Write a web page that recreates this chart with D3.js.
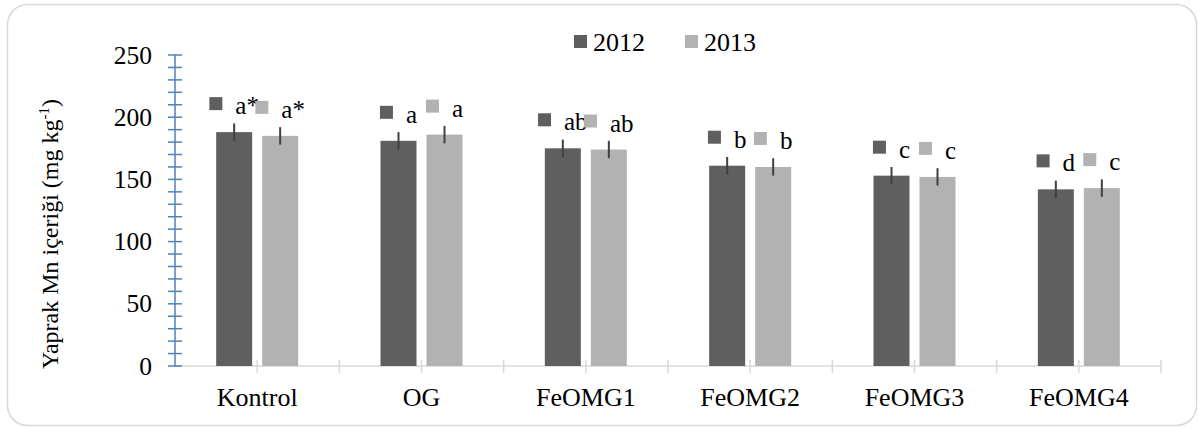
<!DOCTYPE html>
<html><head><meta charset="utf-8">
<script src="https://cdn.jsdelivr.net/npm/d3@7"></script>
<style>html,body{margin:0;padding:0;background:#fff;}svg{display:block;}text{font-family:"Liberation Serif","Times New Roman",serif;fill:#000;}</style>
</head><body><svg id="c" width="1198" height="428"></svg>
<script>
const categories = ["Kontrol","OG","FeOMG1","FeOMG2","FeOMG3","FeOMG4"];
const series = ["2012","2013"];
const values2012 = [188,181,175,161,153,142];
const values2013 = [185,186,174,160,152,143];
const errors2012 = [7,7,7,7,7,7];
const errors2013 = [7,7,7,7,7,7];
const letters2012 = ["a*","a","ab","b","c","d"];
const letters2013 = ["a*","a","ab","b","c","c"];
const yTicks = [0,50,100,150,200,250];
const colors = {"2012":"#5f5f5f","2013":"#b2b2b2"};

const svg = d3.select("#c");
svg.append("rect").attr("x",7.5).attr("y",4.5).attr("width",1189).attr("height",421)
  .attr("rx",20).attr("fill","#fff").attr("stroke","#d9d9d9").attr("stroke-width",1.5);

const pLeft=175, pRight=1161, pTop=55, pBottom=366;
const y = d3.scaleLinear().domain([0,250]).range([pBottom,pTop]);
const x0 = d3.scaleBand().domain(categories).range([pLeft,pRight]).padding(0);
const groupW = 82;
const x1 = d3.scaleBand().domain(series).range([0,groupW]).paddingInner(10/46);

const data = [];
categories.forEach((c,i)=>{
  data.push({c,s:"2012",v:values2012[i],e:errors2012[i],l:letters2012[i]});
  data.push({c,s:"2013",v:values2013[i],e:errors2013[i],l:letters2013[i]});
});
const bx = d=> x0(d.c)+x0.bandwidth()/2-groupW/2+x1(d.s);

// x axis
svg.append("line").attr("x1",pLeft).attr("x2",pRight).attr("y1",pBottom).attr("y2",pBottom)
  .attr("stroke","#d9d9d9").attr("stroke-width",1.5);
const xTickPos = [];
categories.forEach(c=>{xTickPos.push(x0(c)+x0.bandwidth()/2); xTickPos.push(x0(c)+x0.bandwidth());});
svg.selectAll(".xt").data(xTickPos).enter().append("line")
  .attr("x1",d=>d).attr("x2",d=>d).attr("y1",pBottom-6).attr("y2",pBottom+7)
  .attr("stroke","#d9d9d9").attr("stroke-width",1.5);
svg.selectAll(".xl").data(categories).enter().append("text")
  .attr("x",d=>x0(d)+x0.bandwidth()/2).attr("y",406).attr("text-anchor","middle")
  .attr("font-size",26).text(d=>d);

// bars
svg.selectAll(".bar").data(data).enter().append("rect")
  .attr("x",bx).attr("width",x1.bandwidth())
  .attr("y",d=>y(d.v)).attr("height",d=>pBottom-y(d.v))
  .attr("fill",d=>colors[d.s]);

// error bars
svg.selectAll(".err").data(data).enter().append("line")
  .attr("x1",d=>bx(d)+x1.bandwidth()/2).attr("x2",d=>bx(d)+x1.bandwidth()/2)
  .attr("y1",d=>y(d.v+d.e)).attr("y2",d=>y(d.v-d.e))
  .attr("stroke","#404040").attr("stroke-width",2);

// y axis
const minor = d3.range(0,251,10);
svg.append("line").attr("x1",pLeft).attr("x2",pLeft).attr("y1",y(0)).attr("y2",y(250))
  .attr("stroke","#4f81bd").attr("stroke-width",1.5);
svg.selectAll(".yt").data(minor).enter().append("line")
  .attr("x1",pLeft-7).attr("x2",pLeft+7).attr("y1",d=>y(d)).attr("y2",d=>y(d))
  .attr("stroke","#4f81bd").attr("stroke-width",1.5);
svg.selectAll(".yl").data(yTicks).enter().append("text")
  .attr("x",152).attr("y",d=>y(d)).attr("dy","0.34em").attr("text-anchor","end")
  .attr("font-size",25.5).text(d=>d);

// y title
const yt = svg.append("text").attr("transform","translate(58,234) rotate(-90)")
  .attr("text-anchor","middle").attr("font-size",24);
yt.append("tspan").text("Yaprak Mn içeriği (mg kg");
yt.append("tspan").attr("font-size",15).attr("dy",-9).text("-1");
yt.append("tspan").attr("dy",9).text(")");

// data labels with legend key
const lab = svg.selectAll(".lab").data(data).enter().append("g");
lab.each(function(d){
  const g = d3.select(this);
  const t = g.append("text").attr("font-size",25).text(d.l);
  const tw = t.node().getComputedTextLength();
  const total = 13+13+tw;
  const cx = bx(d)+x1.bandwidth()/2;
  const sx = cx-total/2;
  const topY = y(d.v);
  g.insert("rect","text").attr("x",sx).attr("y",topY-35).attr("width",13).attr("height",13).attr("fill",colors[d.s]);
  t.attr("x",sx+26).attr("y",topY-18);
});

// legend
const legX = [574,685];
series.forEach((s,i)=>{
  svg.append("rect").attr("x",legX[i]).attr("y",35).attr("width",13).attr("height",13).attr("fill",colors[s]);
  svg.append("text").attr("x",legX[i]+19).attr("y",51).attr("font-size",26).text(s);
});
</script></body></html>
